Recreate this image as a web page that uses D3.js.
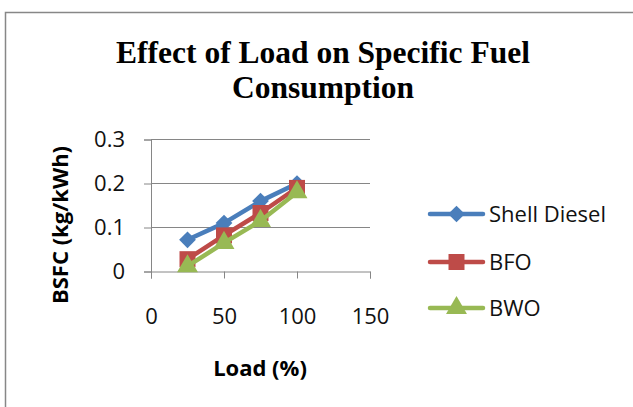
<!DOCTYPE html>
<html>
<head>
<meta charset="utf-8">
<script src="https://cdn.jsdelivr.net/npm/d3@7"></script>
<style>
  body { margin: 0; background: #fff; }
  text { font-family: "Open Sans", "Liberation Sans", sans-serif; }
</style>
</head>
<body>
<svg id="chart" width="633" height="407"></svg>
<script>
// data
var loads = [25, 50, 75, 100];
var shellDiesel = [0.072, 0.11, 0.16, 0.2];
var bfo = [0.028, 0.082, 0.133, 0.19];
var bwo = [0.012, 0.065, 0.115, 0.18];
var seriesNames = ['Shell Diesel', 'BFO', 'BWO'];
var xTicks = [0, 50, 100, 150];
var yTicks = [0, 0.1, 0.2, 0.3];

var colors = ['#4a7ebb', '#be4b48', '#98b954'];
var shapes = [d3.symbolSquare, d3.symbolSquare, d3.symbolTriangle];
var sizes = [140, 256, 190];
var rotate = [45, 0, 0];

var svg = d3.select('#chart');

// outer frame
svg.append('rect')
  .attr('x', 5.5).attr('y', 12.5)
  .attr('width', 660).attr('height', 420)
  .attr('fill', 'none').attr('stroke', '#878787').attr('stroke-width', 1.5);

// title
var title = svg.append('text')
  .attr('text-anchor', 'middle')
  .style('font-family', '"Liberation Serif", "DejaVu Serif", serif')
  .style('font-weight', 'bold').style('font-size', '31.5px');
title.append('tspan').attr('x', 323).attr('y', 63).text('Effect of Load on Specific Fuel');
title.append('tspan').attr('x', 323).attr('y', 98).text('Consumption');

var x = d3.scaleLinear().domain([0, 150]).range([151, 370]);
var y = d3.scaleLinear().domain([0, 0.3]).range([271.5, 139.5]);

// gridlines
svg.append('g').selectAll('line').data(yTicks.slice(1)).enter().append('line')
  .attr('x1', 151).attr('x2', 370)
  .attr('y1', function(d){ return y(d); }).attr('y2', function(d){ return y(d); })
  .attr('stroke', '#868686').attr('stroke-width', 1);

// axes
var yAxis = svg.append('g').attr('transform', 'translate(151,0)')
  .call(d3.axisLeft(y).tickValues(yTicks).tickSize(7).tickPadding(19)
    .tickFormat(function(d){ return d === 0 ? '0' : d3.format('.1f')(d); }));
var xAxis = svg.append('g').attr('transform', 'translate(0,' + y(0) + ')')
  .call(d3.axisBottom(x).tickValues(xTicks).tickSize(7).tickPadding(30));
[yAxis, xAxis].forEach(function(a){
  a.select('.domain').attr('stroke', '#868686');
  a.selectAll('.tick line').attr('stroke', '#868686');
  a.selectAll('.tick text').style('font-size', '22px').attr('fill', '#111')
    .style('font-family', '"Open Sans", "Liberation Sans", sans-serif');
});

// axis titles
svg.append('text')
  .attr('transform', 'translate(68,225) rotate(-90)')
  .attr('text-anchor', 'middle')
  .style('font-weight', 'bold').style('font-size', '22px')
  .text('BSFC (kg/kWh)');
svg.append('text')
  .attr('x', 260).attr('y', 376)
  .attr('text-anchor', 'middle')
  .style('font-weight', 'bold').style('font-size', '22px')
  .text('Load (%)');

// series
var allSeries = [shellDiesel, bfo, bwo];
var line = d3.line()
  .x(function(d, i){ return x(loads[i]); })
  .y(function(d){ return y(d); });

allSeries.forEach(function(vals, s){
  var g = svg.append('g');
  g.append('path').datum(vals)
    .attr('d', line)
    .attr('fill', 'none').attr('stroke', colors[s]).attr('stroke-width', 4.5)
    .attr('stroke-linejoin', 'round');
  g.selectAll('path.pt').data(vals).enter().append('path')
    .attr('class', 'pt')
    .attr('d', d3.symbol().type(shapes[s]).size(sizes[s]))
    .attr('transform', function(d, i){
      return 'translate(' + x(loads[i]) + ',' + y(d) + ') rotate(' + rotate[s] + ')';
    })
    .attr('fill', colors[s]);
});

// legend
var legendY = [214, 262, 308];
var legend = svg.append('g').selectAll('g').data(seriesNames).enter().append('g')
  .attr('transform', function(d, i){ return 'translate(0,' + legendY[i] + ')'; });
legend.append('line')
  .attr('x1', 430).attr('x2', 483).attr('y1', 0).attr('y2', 0)
  .attr('stroke', function(d, i){ return colors[i]; })
  .attr('stroke-width', 4.5).attr('stroke-linecap', 'round');
legend.append('path')
  .attr('d', function(d, i){ return d3.symbol().type(shapes[i]).size(sizes[i])(); })
  .attr('transform', function(d, i){ return 'translate(456.5,0) rotate(' + rotate[i] + ')'; })
  .attr('fill', function(d, i){ return colors[i]; });
legend.append('text')
  .attr('x', 489).attr('y', 0).attr('dy', '0.35em')
  .style('font-size', '22px').attr('fill', '#111')
  .text(function(d){ return d; });
</script>
</body>
</html>
